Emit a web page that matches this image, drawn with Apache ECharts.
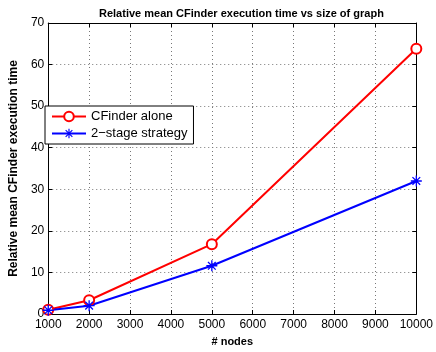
<!DOCTYPE html>
<html>
<head>
<meta charset="utf-8">
<script src="https://cdn.jsdelivr.net/npm/echarts@6/dist/echarts.min.js"></script>
<style>
html,body{margin:0;padding:0;background:#fff;}
#chart{width:436px;height:352px;}
</style>
</head>
<body>
<div id="chart"></div>
<script>
// Graph sizes (number of nodes)
const nodes = [1000, 2000, 5000, 10000];
// Relative mean CFinder execution time
const cfinderAlone = [1.0, 3.3, 16.8, 63.8];
const twoStage = [0.9, 2.0, 11.6, 32.0];

const titleText = 'Relative mean CFinder execution time vs size of graph';
const xName = '# nodes';
const yName = 'Relative mean CFinder execution time';
const seriesNames = ['CFinder alone', '2\u2212stage strategy'];

// Asterisk marker built from four thin bars
const asterisk = 'path://M-0.6,-5L0.6,-5L0.6,5L-0.6,5Z' +
  'M-5,-0.6L5,-0.6L5,0.6L-5,0.6Z' +
  'M-3.08,-3.92L3.92,3.08L3.08,3.92L-3.92,-3.08Z' +
  'M-3.92,3.08L3.08,-3.92L3.92,-3.08L-3.08,3.92Z';

const font = 'Liberation Sans, Arial, Helvetica, sans-serif';
const chart = echarts.init(document.getElementById('chart'), null, {renderer: 'canvas'});

const boxAxis = {
  axisLine: {show: true, onZero: false, lineStyle: {color: '#000', width: 1}},
  axisTick: {show: true, inside: true, length: 4, lineStyle: {color: '#000'}}
};
const gridDots = {show: true, lineStyle: {color: '#777', type: [1, 3], width: 1}};

chart.setOption({
  animation: false,
  backgroundColor: '#fff',
  title: {
    text: titleText,
    left: 94, top: 3,
    textStyle: {fontFamily: font, fontSize: 11, fontWeight: 'bold', color: '#000'}
  },
  grid: {left: 45, right: 18, top: 23, bottom: 36},
  legend: {
    orient: 'vertical',
    left: 45, top: 106,
    data: seriesNames,
    backgroundColor: '#fff',
    borderColor: '#000',
    borderWidth: 1,
    borderRadius: 0,
    padding: [4, 6, 4, 6],
    itemGap: 4,
    itemWidth: 34,
    itemHeight: 12,
    textStyle: {fontFamily: font, fontSize: 13, color: '#000'}
  },
  xAxis: [{
    type: 'value', min: 1000, max: 10000, interval: 1000,
    position: 'bottom',
    name: xName, nameLocation: 'middle', nameGap: 22,
    nameTextStyle: {fontFamily: font, fontSize: 11, fontWeight: 'bold', color: '#000'},
    axisLabel: {fontFamily: font, fontSize: 12, color: '#000', margin: 5,
      formatter: v => String(v)},
    splitLine: gridDots,
    ...boxAxis
  }, {
    type: 'value', min: 1000, max: 10000, interval: 1000,
    position: 'top',
    axisLabel: {show: false},
    splitLine: {show: false},
    ...boxAxis
  }],
  yAxis: [{
    type: 'value', min: 0, max: 70, interval: 10,
    position: 'left',
    name: yName, nameLocation: 'middle', nameGap: 15,
    nameTextStyle: {fontFamily: font, fontSize: 12, fontWeight: 'bold', color: '#000'},
    axisLabel: {fontFamily: font, fontSize: 12, color: '#000', margin: 4},
    splitLine: gridDots,
    ...boxAxis
  }, {
    type: 'value', min: 0, max: 70, interval: 10,
    position: 'right',
    axisLabel: {show: false},
    splitLine: {show: false},
    ...boxAxis
  }],
  series: [{
    name: seriesNames[0],
    type: 'line',
    data: nodes.map((n, i) => [n, cfinderAlone[i]]),
    symbol: 'emptyCircle',
    symbolSize: 10,
    showAllSymbol: true,
    lineStyle: {color: '#ff0000', width: 2},
    itemStyle: {color: '#ff0000', borderColor: '#ff0000', borderWidth: 2}
  }, {
    name: seriesNames[1],
    type: 'line',
    data: nodes.map((n, i) => [n, twoStage[i]]),
    symbol: asterisk,
    symbolSize: 11,
    showAllSymbol: true,
    lineStyle: {color: '#0000ff', width: 2},
    itemStyle: {color: '#0000ff', borderWidth: 0}
  }]
});
</script>
</body>
</html>
